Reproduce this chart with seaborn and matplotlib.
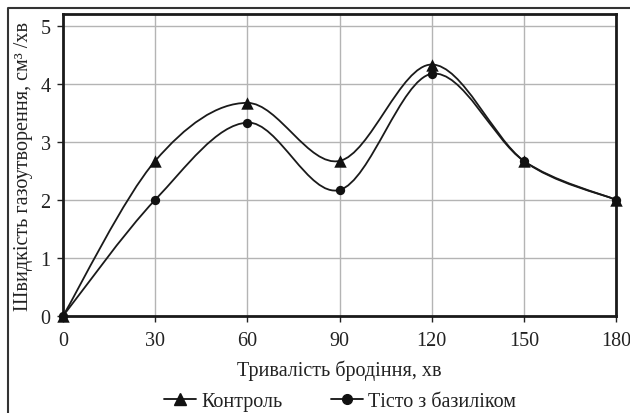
import numpy as np
import pandas as pd
import seaborn as sns
import matplotlib.pyplot as plt
from matplotlib.path import Path
from matplotlib.patches import PathPatch
from matplotlib.lines import Line2D

time_min = [0, 30, 60, 90, 120, 150, 180]
control = [0.0, 2.67, 3.67, 2.67, 4.33, 2.67, 2.0]
basil = [0.0, 2.0, 3.33, 2.17, 4.17, 2.67, 2.0]
series_names = ['Контроль', 'Тісто з базиліком']
y_ticks = [0, 1, 2, 3, 4, 5]

sns.set_style('whitegrid')
plt.rcParams['font.family'] = ['Liberation Serif', 'DejaVu Serif']

df = pd.DataFrame({
    'time': time_min * 2,
    'rate': control + basil,
    'series': [series_names[0]] * len(time_min) + [series_names[1]] * len(time_min),
})


def smooth_path(x, y):
    # excel-like smoothed line: catmull-rom segments as cubic beziers
    pts = np.column_stack([x, y]).astype(float)
    padded = np.vstack([pts[0], pts, pts[-1]])
    verts = [pts[0]]
    codes = [Path.MOVETO]
    for i in range(len(pts) - 1):
        p0, p1, p2, p3 = padded[i], padded[i + 1], padded[i + 2], padded[i + 3]
        verts += [p1 + (p2 - p0) / 6, p2 - (p3 - p1) / 6, p2]
        codes += [Path.CURVE4] * 3
    return Path(verts, codes)


fs = 14.5
txt = '#222222'

fig = plt.figure(figsize=(6.3, 4.14), dpi=100)
ax = fig.add_axes([63 / 630, 1 - 317 / 414, (616 - 63) / 630, (317 - 15) / 414])

marker_style = {series_names[0]: ('^', 80), series_names[1]: ('o', 45)}
for name in series_names:
    sub = df[df['series'] == name]
    ax.add_patch(PathPatch(smooth_path(sub['time'], sub['rate']), facecolor='none',
                           edgecolor='#1a1a1a', lw=1.3, zorder=3))
    m, s = marker_style[name]
    sns.scatterplot(data=sub, x='time', y='rate', marker=m, s=s, color='#111111',
                    edgecolor='#111111', linewidth=0, legend=False, ax=ax,
                    clip_on=False, zorder=4)

ax.set_xlim(0, 180)
ax.set_ylim(0, 5.2)
ax.set_xticks(time_min)
ax.set_yticks(y_ticks)
ax.grid(True, color='#b4b4b4', lw=1.0)
for sp in ax.spines.values():
    sp.set_color('#1a1a1a')
    sp.set_linewidth(2.0)
ax.tick_params(axis='both', labelsize=fs, colors=txt, length=4,
               width=1, direction='out', left=True, bottom=True)
ax.tick_params(axis='x', pad=7)
ax.tick_params(axis='y', pad=5)
ax.set_xlabel('Тривалість бродіння, хв', fontsize=fs, color=txt, labelpad=7)
ax.set_ylabel('Швидкість газоутворення, см³ /хв', fontsize=fs, color=txt, labelpad=5)

handles = [Line2D([], [], color='#111111', lw=1.3, marker=marker_style[n][0],
                  markersize=9 if n == series_names[0] else 7) for n in series_names]
fig.legend(handles, series_names, loc='center', bbox_to_anchor=(340 / 630, 0.027), ncol=2,
           frameon=False, fontsize=fs, handlelength=1.6, handletextpad=0.25,
           columnspacing=2.4, labelcolor=txt)

# outer chart frame (cropped on right and bottom)
fig.add_artist(Line2D([8 / 630, 8 / 630, 1], [0, 1 - 9 / 414, 1 - 9 / 414],
                      transform=fig.transFigure, color='#333333', lw=1.5))

fig.savefig('out.png', dpi=100)
